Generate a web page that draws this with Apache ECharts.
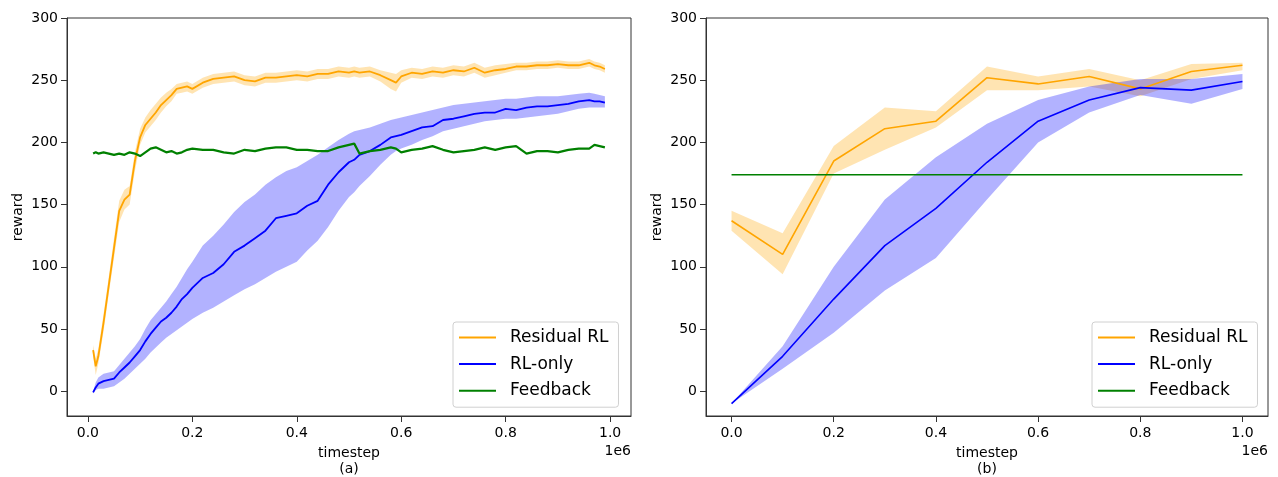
<!DOCTYPE html>
<html>
<head>
<meta charset="utf-8">
<script src="https://cdn.jsdelivr.net/npm/echarts@6/dist/echarts.min.js"></script>
<style>
  html, body { margin: 0; padding: 0; background: #fff; }
  #main { width: 1278px; height: 477px; }
</style>
</head>
<body>
<div id="main"></div>
<script>
// timestep (in 1e6) for panel (a)
var stepsA = [0.01, 0.015, 0.02, 0.03, 0.04, 0.05, 0.06, 0.07, 0.08, 0.09, 0.10, 0.11, 0.12, 0.13, 0.14, 0.15,
  0.16, 0.17, 0.18, 0.19, 0.20, 0.22, 0.24, 0.26, 0.28, 0.30, 0.32, 0.34, 0.36, 0.38, 0.40, 0.42, 0.44, 0.46,
  0.48, 0.50, 0.51, 0.52, 0.54, 0.56, 0.58, 0.59, 0.60, 0.62, 0.64, 0.66, 0.68, 0.70, 0.72, 0.74, 0.76, 0.78,
  0.80, 0.82, 0.84, 0.86, 0.88, 0.90, 0.92, 0.94, 0.96, 0.97, 0.98, 0.99];

var residualA = [33, 20, 28, 55, 85, 115, 145, 154, 158, 185, 204, 214, 219, 224, 230, 234,
  238, 243, 244, 245, 243, 248, 251, 252, 253, 250, 249, 252, 252, 253, 254, 253, 255, 255,
  257, 256, 257, 256, 257, 254, 250, 248, 253, 256, 255, 257, 256, 258, 257, 260, 256, 258,
  259, 261, 261, 262, 262, 263, 262, 262, 264, 262, 261, 259];
var residualALo = [28, 13, 22, 48, 78, 107, 136, 146, 150, 177, 198, 208, 213, 218, 224, 229,
  233, 239, 240, 241, 239, 244, 247, 248, 249, 246, 245, 248, 248, 249, 250, 249, 251, 251,
  253, 252, 253, 252, 253, 249, 243, 241, 248, 252, 251, 253, 252, 254, 253, 256, 252, 254,
  256, 258, 258, 259, 259, 260, 259, 259, 261, 259, 258, 256];
var residualAHi = [37, 26, 34, 62, 92, 123, 153, 162, 165, 192, 211, 220, 226, 231, 236, 240,
  243, 247, 248, 249, 247, 252, 255, 256, 257, 254, 253, 256, 256, 257, 258, 257, 259, 259,
  261, 260, 261, 260, 261, 258, 256, 255, 258, 260, 259, 261, 260, 262, 261, 264, 260, 262,
  263, 264, 264, 265, 265, 266, 265, 265, 267, 265, 264, 262];

var rlOnlyA = [-1, 3, 6, 8, 9, 10, 15, 19, 23, 28, 33, 40, 46, 51, 56, 59,
  63, 68, 74, 78, 83, 91, 95, 102, 112, 117, 123, 129, 139, 141, 143, 149, 153, 166,
  176, 184, 186, 190, 193, 198, 204, 205, 206, 209, 212, 213, 218, 219, 221, 223, 224, 224,
  227, 226, 228, 229, 229, 230, 231, 233, 234, 233, 233, 232];
var rlOnlyALo = [-2, 1, 2, 2, 3, 4, 7, 10, 14, 18, 22, 26, 31, 35, 39, 43,
  46, 49, 52, 55, 58, 63, 67, 72, 77, 82, 86, 91, 96, 100, 104, 113, 121, 132,
  145, 156, 160, 165, 173, 182, 190, 193, 195, 198, 202, 205, 209, 211, 213, 215, 217, 218,
  219, 219, 220, 221, 222, 223, 225, 227, 228, 228, 228, 228];
var rlOnlyAHi = [0, 7, 11, 14, 15, 16, 21, 26, 31, 36, 42, 50, 57, 62, 67, 72,
  78, 84, 91, 98, 104, 117, 125, 134, 144, 152, 158, 166, 172, 177, 180, 185, 190, 196,
  202, 207, 209, 210, 212, 215, 218, 219, 220, 222, 224, 226, 228, 230, 231, 232, 233, 234,
  235, 235, 236, 237, 237, 237, 238, 239, 240, 239, 238, 237];

var feedbackA = [191, 192, 191, 192, 191, 190, 191, 190, 192, 191, 189, 192, 195, 196, 194, 192,
  193, 191, 192, 194, 195, 194, 194, 192, 191, 194, 193, 195, 196, 196, 194, 194, 193, 193,
  196, 198, 199, 191, 193, 194, 196, 195, 192, 194, 195, 197, 194, 192, 193, 194, 196, 194,
  196, 197, 191, 193, 193, 192, 194, 195, 195, 198, 197, 196];

// panel (b)
var stepsB = [0, 0.1, 0.2, 0.3, 0.4, 0.5, 0.6, 0.7, 0.8, 0.9, 1.0];
var residualB = [137, 110, 185, 211, 217, 252, 247, 253, 243, 257, 262];
var residualBLo = [129, 94, 175, 194, 212, 242, 242, 245, 237, 251, 258];
var residualBHi = [145, 127, 197, 228, 225, 261, 253, 259, 250, 263, 264];
var rlOnlyB = [-10, 28, 74, 117, 147, 184, 217, 234, 244, 242, 249];
var rlOnlyBLo = [-10, 18, 47, 81, 107, 154, 200, 224, 238, 231, 243];
var rlOnlyBHi = [-10, 36, 100, 154, 188, 215, 234, 245, 251, 251, 255];
var feedbackB = [174, 174, 174, 174, 174, 174, 174, 174, 174, 174, 174];

var xTicks = [0, 0.2, 0.4, 0.6, 0.8, 1.0];
var yTicks = [0, 50, 100, 150, 200, 250, 300];
var names = ['Residual RL', 'RL-only', 'Feedback'];

var FONT = 'DejaVu Sans';
var ORANGE = '#ffa500', BLUE = '#0000ff', GREEN = '#008000';

function pairs(xs, ys) {
  return xs.map(function (x, i) { return [x, ys[i]]; });
}

// shaded band between lo and hi, drawn as one polygon through the axes
function band(xs, lo, hi, fill, axis) {
  return {
    type: 'custom', xAxisIndex: axis, yAxisIndex: axis, silent: true, z: 1,
    data: xs.map(function (x, i) { return [x, lo[i], hi[i]]; }),
    encode: { x: 0, y: [1, 2] },
    renderItem: function (params, api) {
      if (params.dataIndex !== 0) return null;
      var pts = [];
      for (var i = 0; i < xs.length; i++) pts.push(api.coord([xs[i], hi[i]]));
      for (var j = xs.length - 1; j >= 0; j--) pts.push(api.coord([xs[j], lo[j]]));
      return { type: 'polygon', shape: { points: pts }, style: { fill: fill } };
    }
  };
}

function line(name, xs, ys, color, axis, w) {
  return {
    type: 'line', name: name, xAxisIndex: axis, yAxisIndex: axis,
    data: pairs(xs, ys), symbol: 'none', z: 3,
    lineStyle: { color: color, width: w }, itemStyle: { color: color }
  };
}

function xAxis(idx, min, max, label) {
  return {
    type: 'value', gridIndex: idx, min: min, max: max,
    name: 'timestep\n' + label, nameLocation: 'middle', nameGap: 28,
    nameTextStyle: { fontFamily: FONT, fontSize: 14, color: '#000', lineHeight: 16 },
    axisLine: { show: true, onZero: false, lineStyle: { color: '#333', width: 1 } },
    axisTick: { show: true, length: 6, lineStyle: { color: '#333' }, customValues: xTicks },
    axisLabel: {
      fontFamily: FONT, fontSize: 14, color: '#000', margin: 10,
      customValues: xTicks,
      formatter: function (v) { return v.toFixed(1); }
    },
    splitLine: { show: false }
  };
}

function yAxis(idx) {
  return {
    type: 'value', gridIndex: idx, min: -20, max: 300,
    name: 'reward', nameLocation: 'middle', nameGap: 42, nameRotate: 90,
    nameTextStyle: { fontFamily: FONT, fontSize: 14, color: '#000' },
    axisLine: { show: true, onZero: false, lineStyle: { color: '#333', width: 1 } },
    axisTick: { show: true, length: 6, lineStyle: { color: '#333' }, customValues: yTicks },
    axisLabel: { fontFamily: FONT, fontSize: 14, color: '#000', margin: 9, customValues: yTicks },
    splitLine: { show: false }
  };
}

function legend(left) {
  return {
    orient: 'vertical', left: left, top: 322,
    data: names, icon: 'rect', itemWidth: 37, itemHeight: 2, itemGap: 9.6,
    padding: [7, 10, 8, 6],
    borderColor: '#d0d0d0', borderWidth: 1, borderRadius: 3,
    backgroundColor: 'rgba(255,255,255,0.8)',
    selectedMode: false,
    textStyle: { fontFamily: FONT, fontSize: 17, color: '#000', padding: [0, 0, 0, 9] }
  };
}

var series = [
  band(stepsA, residualALo, residualAHi, 'rgba(255,165,0,0.3)', 0),
  band(stepsA, rlOnlyALo, rlOnlyAHi, 'rgba(0,0,255,0.3)', 0),
  line(names[0], stepsA, residualA, ORANGE, 0, 1.8),
  line(names[1], stepsA, rlOnlyA, BLUE, 0, 1.8),
  line(names[2], stepsA, feedbackA, GREEN, 0, 2.2),
  band(stepsB, residualBLo, residualBHi, 'rgba(255,165,0,0.3)', 1),
  band(stepsB, rlOnlyBLo, rlOnlyBHi, 'rgba(0,0,255,0.3)', 1),
  line(names[0], stepsB, residualB, ORANGE, 1, 1.6),
  line(names[1], stepsB, rlOnlyB, BLUE, 1, 1.6),
  line(names[2], stepsB, feedbackB, GREEN, 1, 1.6)
];

var chart = echarts.init(document.getElementById('main'), null, { renderer: 'canvas' });
chart.setOption({
  animation: false,
  backgroundColor: '#fff',
  grid: [
    { left: 67, top: 18, width: 564, height: 398, outerBoundsMode: 'none',
      show: true, borderColor: '#333', borderWidth: 1 },
    { left: 706, top: 18, width: 562, height: 398, outerBoundsMode: 'none',
      show: true, borderColor: '#333', borderWidth: 1 }
  ],
  xAxis: [xAxis(0, -0.04, 1.04, '(a)'), xAxis(1, -0.05, 1.05, '(b)')],
  yAxis: [yAxis(0), yAxis(1)],
  legend: [legend(453), legend(1092)],
  graphic: [
    { type: 'text', right: 647, top: 444, style: { text: '1e6', font: '14px "DejaVu Sans"', fill: '#000' } },
    { type: 'text', right: 10, top: 444, style: { text: '1e6', font: '14px "DejaVu Sans"', fill: '#000' } }
  ],
  series: series
});
</script>
</body>
</html>
